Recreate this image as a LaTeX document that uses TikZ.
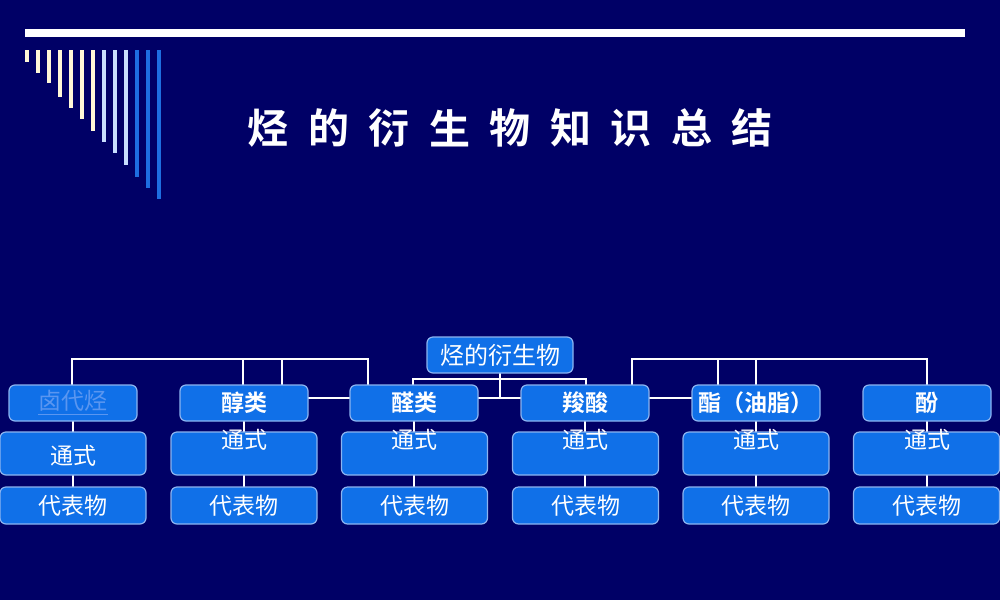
\documentclass[tikz,border=0pt]{standalone}
\usepackage{fontspec}
\setmainfont{Noto Sans CJK SC}
\newfontfamily\cjkb{Noto Sans CJK SC Bold}
\definecolor{bg}{RGB}{0,0,102}
\definecolor{boxf}{RGB}{16,112,232}
\definecolor{boxd}{RGB}{140,180,240}
\definecolor{cream}{RGB}{255,248,215}
\definecolor{lblue}{RGB}{200,222,255}
\definecolor{sblue}{RGB}{30,110,225}
\definecolor{linkc}{RGB}{90,150,240}
\tikzset{
 box/.style={draw=boxd,line width=0.6pt,fill=boxf,rounded corners=3pt,inner sep=0pt,text=white},
 lone/.style={box,minimum width=64pt,minimum height=18pt,font=\cjkb\fontsize{11.5}{13}\selectfont},
 ltwo/.style={box,minimum width=73pt,minimum height=21.5pt},
 lthree/.style={box,minimum width=73pt,minimum height=18.5pt,font=\fontsize{11.5}{13}\selectfont},
 conn/.style={draw=white,line width=1.3pt},
 txt/.style={text=white,font=\fontsize{11.5}{13}\selectfont,inner sep=0pt},
 stripe/.style={line width=2.3pt}
}
\begin{document}
\begin{tikzpicture}[x=0.5pt,y=-0.5pt]
\fill[bg] (0,0) rectangle (1000,600);
\useasboundingbox (0,0) rectangle (1000,600);
\fill[white] (25,29) rectangle (965,37);
% stripes
\foreach \x/\b/\c in {27/62/cream,38/73/cream,49/83/cream,60/97/cream,71/108/cream,82/119/cream,93/131/cream,104/142/lblue,115/153/lblue,126/165/lblue,137/177/sblue,148/188/sblue,159/199/sblue}
  \draw[stripe,\c] (\x,50) -- (\x,\b);
% title
\foreach \ch [count=\i from 0] in {烃,的,衍,生,物,知,识,总,结}
  \node[text=white,font=\cjkb\fontsize{20.5}{22}\selectfont,inner sep=0pt] (title\i) at (268+\i*60.5,128) {\ch};
% connectors
\coordinate (lb2) at (368,359);
\coordinate (rb2) at (927,359);
\coordinate (mb) at (586,379);
\coordinate (mc) at (500,398);
\draw[conn] (72,385) |- (lb2) -- (368,385);
\draw[conn] (243,359) -- (243,385); \draw[conn] (282,359) -- (282,385);
\draw[conn] (632,385) |- (rb2) -- (927,385);
\draw[conn] (718,359) -- (718,385); \draw[conn] (756,359) -- (756,385);
\draw[conn] (413,385) |- (mb) -- (586,385);
\draw[conn] (500,373) -- (mc);
\draw[conn] (478,398) -- (521,398);
\draw[conn] (308,398) -- (350,398);
\draw[conn] (649,398) -- (692,398);
\foreach \x in {73,244,414,585,756,927} \draw[conn] (\x,420) -- (\x,488);
% root
\node[box,minimum width=73pt,minimum height=18pt,font=\fontsize{12}{14}\selectfont] (root) at (500,355) {烃的衍生物};
% level 1
\node[lone,text=linkc,font=\fontsize{11.5}{13}\selectfont] (a1) at (73,403) {\underline{卤代烃}};
\node[lone] (a2) at (244,403) {醇类};
\node[lone] (a3) at (414,403) {醛类};
\node[lone] (a4) at (585,403) {羧酸};
\node[lone] (a5) at (756,403) {酯（油脂）};
\node[lone] (a6) at (927,403) {酚};
% level 2
\node[ltwo] (b1) at (73,453.5) {};
\node[ltwo] (b2) at (244,453.5) {};
\node[ltwo] (b3) at (414.5,453.5) {};
\node[ltwo] (b4) at (585.5,453.5) {};
\node[ltwo] (b5) at (756,453.5) {};
\node[ltwo] (b6) at (926.5,453.5) {};
\node[txt] (tb1) at (73,456) {通式};
\foreach \i/\x in {2/244,3/414,4/585,5/756,6/927} \node[txt] (tb\i) at (\x,440) {通式};
% level 3
\node[lthree] (c1) at (73,505.5) {代表物};
\node[lthree] (c2) at (244,505.5) {代表物};
\node[lthree] (c3) at (414.5,505.5) {代表物};
\node[lthree] (c4) at (585.5,505.5) {代表物};
\node[lthree] (c5) at (756,505.5) {代表物};
\node[lthree] (c6) at (926.5,505.5) {代表物};
\end{tikzpicture}
\end{document}
